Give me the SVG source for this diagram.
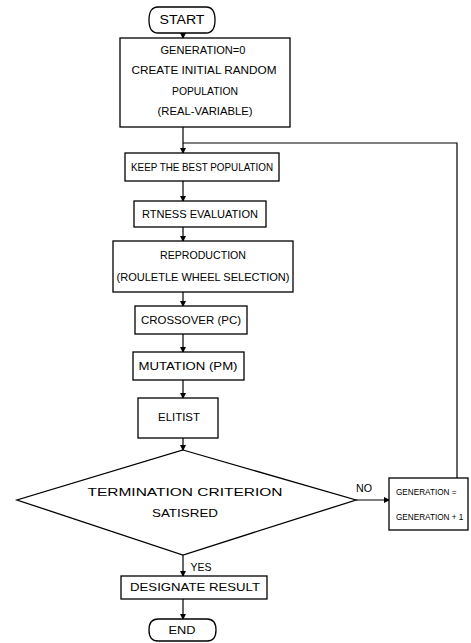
<svg xmlns="http://www.w3.org/2000/svg" width="471" height="643" viewBox="0 0 471 643">
<defs>
<marker id="arr" markerWidth="6" markerHeight="6" refX="5" refY="3" orient="auto" markerUnits="userSpaceOnUse">
<path d="M0,0 L6,3 L0,6 Z" fill="#000"/>
</marker>
<style>
.s{fill:#fff;stroke:#000;stroke-width:1.3}
.t{font-family:"Liberation Sans",Arial,sans-serif;font-size:11px;fill:#000;text-anchor:middle;dominant-baseline:central}
.g{font-size:8.2px;text-anchor:start}
.l{stroke:#000;stroke-width:1.2;fill:none}
</style>
</defs>
<rect width="471" height="643" fill="#fff"/>
<g id="connectors">
<line class="l" x1="183" y1="33" x2="183" y2="38" marker-end="url(#arr)"/>
<line class="l" x1="183" y1="127" x2="183" y2="153" marker-end="url(#arr)"/>
<polyline class="l" points="457,478 457,143 183,143"/>
<line class="l" x1="183" y1="181" x2="183" y2="201" marker-end="url(#arr)"/>
<line class="l" x1="183" y1="227" x2="183" y2="241" marker-end="url(#arr)"/>
<line class="l" x1="183" y1="292" x2="183" y2="306" marker-end="url(#arr)"/>
<line class="l" x1="183" y1="334" x2="183" y2="352" marker-end="url(#arr)"/>
<line class="l" x1="183" y1="380" x2="183" y2="398" marker-end="url(#arr)"/>
<line class="l" x1="183" y1="438" x2="183" y2="450" marker-end="url(#arr)"/>
<line class="l" x1="356" y1="500" x2="389" y2="500" marker-end="url(#arr)"/>
<line class="l" x1="183" y1="555" x2="183" y2="576" marker-end="url(#arr)"/>
<line class="l" x1="183" y1="599" x2="183" y2="619" marker-end="url(#arr)"/>
<text class="t" x="364" y="488" textLength="16" lengthAdjust="spacingAndGlyphs">NO</text>
<text class="t" x="201" y="567" textLength="21" lengthAdjust="spacingAndGlyphs">YES</text>
</g>
<g id="start">
<path class="s" d="M158,7 H206 Q215,7 215,20 Q215,33 206,33 H158 Q149,33 149,20 Q149,7 158,7 Z"/>
<text class="t" x="182" y="20" style="font-size:12px" textLength="45" lengthAdjust="spacingAndGlyphs">START</text>
</g>
<g id="init">
<rect class="s" x="120" y="38" width="170" height="89"/>
<text class="t" x="203" y="50" textLength="85" lengthAdjust="spacingAndGlyphs">GENERATION=0</text>
<text class="t" x="204" y="70" textLength="145" lengthAdjust="spacingAndGlyphs">CREATE INITIAL RANDOM</text>
<text class="t" x="205" y="91" textLength="66" lengthAdjust="spacingAndGlyphs">POPULATION</text>
<text class="t" x="205" y="111" textLength="95" lengthAdjust="spacingAndGlyphs">(REAL-VARIABLE)</text>
</g>
<g id="keep">
<rect class="s" x="125" y="153" width="154" height="28"/>
<text class="t" x="202" y="167" textLength="142" lengthAdjust="spacingAndGlyphs">KEEP THE BEST POPULATION</text>
</g>
<g id="fitness">
<rect class="s" x="134" y="201" width="132" height="26"/>
<text class="t" x="200" y="214" textLength="116" lengthAdjust="spacingAndGlyphs">RTNESS EVALUATION</text>
</g>
<g id="reproduction">
<rect class="s" x="113" y="241" width="180" height="51"/>
<text class="t" x="203" y="255" textLength="86" lengthAdjust="spacingAndGlyphs">REPRODUCTION</text>
<text class="t" x="203" y="277" textLength="173" lengthAdjust="spacingAndGlyphs">(ROULETLE WHEEL SELECTION)</text>
</g>
<g id="crossover">
<rect class="s" x="135" y="306" width="112" height="28"/>
<text class="t" x="191" y="320" textLength="100" lengthAdjust="spacingAndGlyphs">CROSSOVER (PC)</text>
</g>
<g id="mutation">
<rect class="s" x="133" y="352" width="111" height="28"/>
<text class="t" x="188" y="366" textLength="99" lengthAdjust="spacingAndGlyphs">MUTATION (PM)</text>
</g>
<g id="elitist">
<rect class="s" x="138" y="398" width="80" height="40"/>
<text class="t" x="179" y="417" textLength="42" lengthAdjust="spacingAndGlyphs">ELITIST</text>
</g>
<g id="decision">
<polygon class="s" points="183,450 356,500 183,555 17,500"/>
<text class="t" x="185" y="492" textLength="195" lengthAdjust="spacingAndGlyphs">TERMINATION CRITERION</text>
<text class="t" x="185" y="513" textLength="66" lengthAdjust="spacingAndGlyphs">SATISRED</text>
</g>
<g id="increment">
<rect class="s" x="389" y="478" width="79" height="52"/>
<text class="t g" x="396" y="492">GENERATION =</text>
<text class="t g" x="396" y="517">GENERATION + 1</text>
</g>
<g id="designate">
<rect class="s" x="121" y="576" width="146" height="23"/>
<text class="t" x="195" y="587" textLength="130" lengthAdjust="spacingAndGlyphs">DESIGNATE RESULT</text>
</g>
<g id="end">
<path class="s" d="M158,619 H207 Q216,619 216,630 Q216,641 207,641 H158 Q149,641 149,630 Q149,619 158,619 Z"/>
<text class="t" x="182" y="630" textLength="27" lengthAdjust="spacingAndGlyphs">END</text>
</g>
</svg>
